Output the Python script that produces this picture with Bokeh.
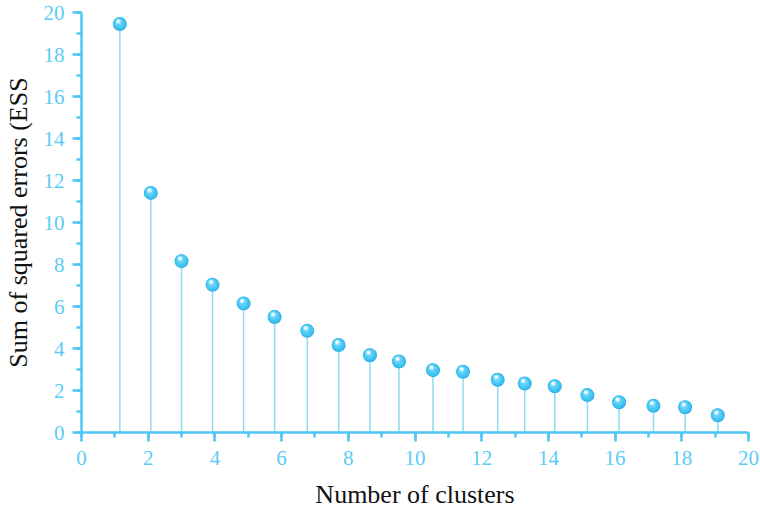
from bokeh.plotting import figure
from bokeh.models import Range1d, SingleIntervalTicker
from bokeh.embed import file_html
from bokeh.resources import INLINE

# Elbow curve: sum of squared errors for each clustering run
clusters = [1.15, 2.08, 3.00, 3.93, 4.86, 5.79, 6.77, 7.71, 8.65, 9.52,
            10.54, 11.44, 12.48, 13.29, 14.19, 15.17, 16.12, 17.15, 18.10, 19.08]
ess = [19.45, 11.41, 8.16, 7.03, 6.14, 5.50, 4.84, 4.17, 3.68, 3.38,
       2.97, 2.89, 2.51, 2.33, 2.20, 1.78, 1.44, 1.27, 1.20, 0.82]

W, H = 760, 511
BL, BR, BT, BB = 80, 12, 12, 79
X_MAX, Y_MAX = 20, 20

AXIS_COLOR = "#4fc6f2"
LABEL_COLOR = "#5ccbf5"
FONT = "'Liberation Serif', 'Times New Roman', serif"

p = figure(width=W, height=H, output_backend="svg", toolbar_location=None,
           x_range=Range1d(0, X_MAX), y_range=Range1d(0, Y_MAX),
           min_border_left=BL, min_border_right=BR,
           min_border_top=BT, min_border_bottom=BB)
p.outline_line_color = None
p.xgrid.visible = False
p.ygrid.visible = False
p.background_fill_color = "white"
p.border_fill_color = "white"

# stems
p.segment(x0=clusters, y0=[0] * len(clusters), x1=clusters, y1=ess,
          line_color="#8fdaf5", line_width=1.5)

# shaded balls: layered discs, offsets given in screen pixels
ux = X_MAX / (W - BL - BR)
uy = Y_MAX / (H - BT - BB)

def shifted(dx_px, dy_px):
    return ([c + dx_px * ux for c in clusters], [e + dy_px * uy for e in ess])

layers = [
    (0, 0, 14, "#2db2e8", 1.0),
    (-0.4, 0.6, 12.5, "#43c4f3", 1.0),
    (-0.8, 1.4, 8.5, "#5fd0f8", 1.0),
    (-1.4, 2.5, 5, "#b4ebfc", 0.95),
    (-1.5, 2.8, 2.6, "#ffffff", 1.0),
]
for dx, dy, size, color, alpha in layers:
    xs, ys = shifted(dx, dy)
    p.scatter(xs, ys, size=size, marker="circle", fill_color=color,
              fill_alpha=alpha, line_color=None)

for ax, label in ((p.xaxis, "Number of clusters"),
                  (p.yaxis, "Sum of squared errors (ESS")):
    ax.ticker = SingleIntervalTicker(interval=2, num_minor_ticks=2)
    ax.axis_line_color = AXIS_COLOR
    ax.axis_line_width = 2.5
    ax.major_tick_line_color = AXIS_COLOR
    ax.major_tick_line_width = 2.5
    ax.minor_tick_line_color = AXIS_COLOR
    ax.minor_tick_line_width = 2.5
    ax.major_tick_in = 0
    ax.major_tick_out = 9
    ax.minor_tick_in = 0
    ax.minor_tick_out = 5
    ax.major_label_text_font = FONT
    ax.major_label_text_font_size = "21px"
    ax.major_label_text_color = LABEL_COLOR
    ax.axis_label = label
    ax.axis_label_text_font = FONT
    ax.axis_label_text_font_size = "26px"
    ax.axis_label_text_font_style = "normal"
    ax.axis_label_text_color = "#111111"

p.xaxis.major_label_standoff = 9
p.xaxis.axis_label_standoff = 12
p.yaxis.major_label_standoff = 8
p.yaxis.axis_label_standoff = 8
p.yaxis.axis_label_text_line_height = 1.0
p.yaxis.major_label_orientation = "horizontal"

open("out.html", "w").write(file_html(p, INLINE))
